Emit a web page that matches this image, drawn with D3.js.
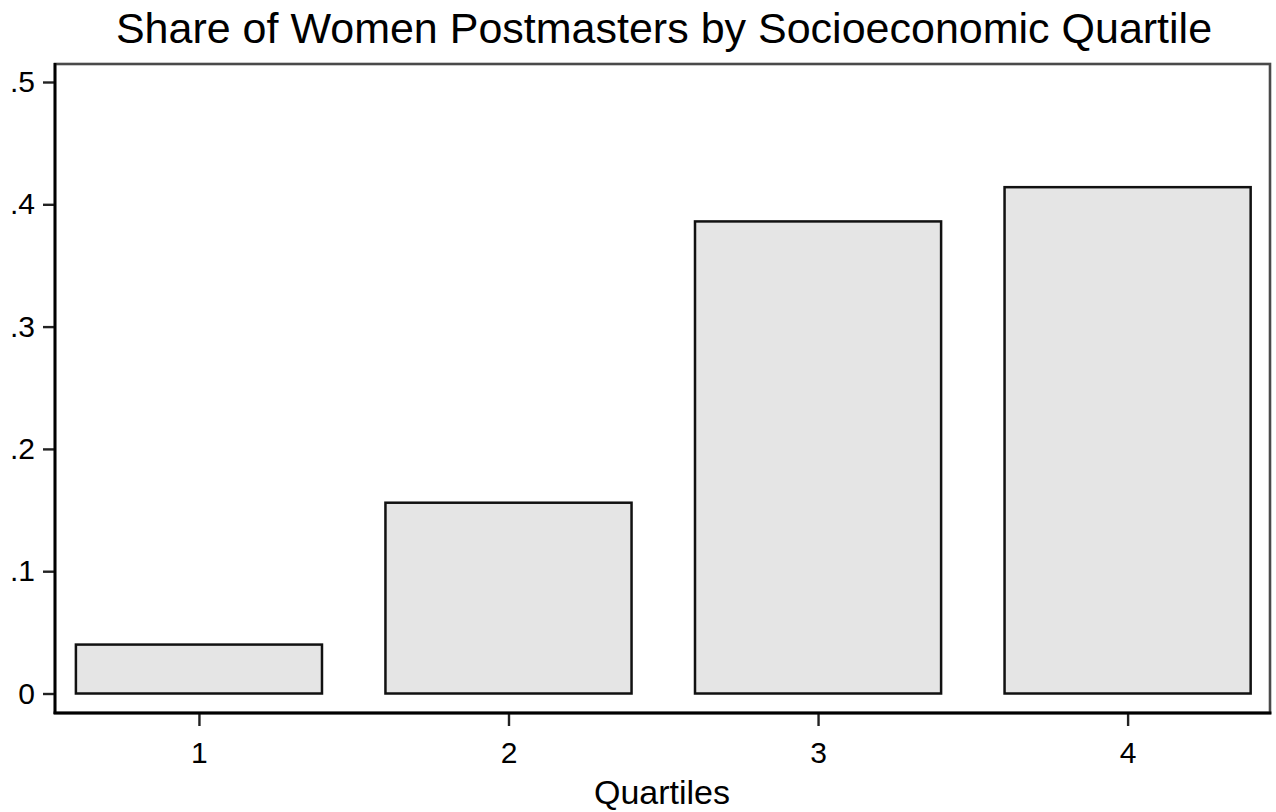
<!DOCTYPE html>
<html>
<head>
<meta charset="utf-8">
<script src="https://cdn.jsdelivr.net/npm/d3@7"></script>
<style>
  html, body { margin: 0; padding: 0; background: #ffffff; }
  svg { display: block; font-family: "Liberation Sans", Arial, sans-serif; }
</style>
</head>
<body>
<svg id="chart" width="1276" height="812"></svg>
<script>
const categories = [1, 2, 3, 4];
const shares = [0.040, 0.156, 0.386, 0.414];
const yTicks = [0, 0.1, 0.2, 0.3, 0.4, 0.5];
const yTickLabels = ["0", ".1", ".2", ".3", ".4", ".5"];
const xTickLabels = ["1", "2", "3", "4"];
const titleText = "Share of Women Postmasters by Socioeconomic Quartile";
const xTitle = "Quartiles";

const svg = d3.select("#chart");
const plot = { left: 55, right: 1270, top: 64, bottom: 713 };

const x = d3.scaleLinear().domain([0.535, 4.46]).range([plot.left, plot.right]);
const y = d3.scaleLinear().domain([0, 0.5]).range([693.5, 82]);
const barW = 0.795;

// plot region border (top/right grey)
svg.append("rect")
  .attr("x", plot.left).attr("y", plot.top)
  .attr("width", plot.right - plot.left).attr("height", plot.bottom - plot.top)
  .attr("fill", "none").attr("stroke", "#4a4a4a").attr("stroke-width", 2.6);

// bars
svg.append("g").selectAll("rect").data(categories).join("rect")
  .attr("x", (d) => x(d - barW / 2))
  .attr("width", (d) => x(d + barW / 2) - x(d - barW / 2))
  .attr("y", (d, i) => y(shares[i]))
  .attr("height", (d, i) => y(0) - y(shares[i]))
  .attr("fill", "#e5e5e5")
  .attr("stroke", "#111")
  .attr("stroke-width", 2.5);

// y axis
const yAxis = d3.axisLeft(y).tickValues(yTicks)
  .tickFormat((d, i) => yTickLabels[i]).tickSize(12).tickPadding(8);
const gy = svg.append("g").attr("transform", `translate(${plot.left},0)`).call(yAxis);
gy.select(".domain").remove();
gy.append("line").attr("x1", 0).attr("x2", 0).attr("y1", plot.top - 1).attr("y2", plot.bottom + 1)
  .attr("stroke", "#000").attr("stroke-width", 2.8);
gy.selectAll(".tick line").attr("stroke", "#222").attr("stroke-width", 2.4);
gy.selectAll(".tick text").attr("font-size", 30).attr("fill", "#000")
  .attr("font-family", "Liberation Sans, Arial, sans-serif");

// x axis
const xAxis = d3.axisBottom(x).tickValues(categories)
  .tickFormat((d, i) => xTickLabels[i]).tickSize(13).tickPadding(15.5);
const gx = svg.append("g").attr("transform", `translate(0,${plot.bottom})`).call(xAxis);
gx.select(".domain").remove();
gx.append("line").attr("x1", plot.left - 1.4).attr("x2", plot.right + 1.4).attr("y1", 0).attr("y2", 0)
  .attr("stroke", "#000").attr("stroke-width", 2.8);
gx.selectAll(".tick line").attr("stroke", "#222").attr("stroke-width", 2.4);
gx.selectAll(".tick text").attr("font-size", 30).attr("fill", "#000")
  .attr("font-family", "Liberation Sans, Arial, sans-serif");

// titles
svg.append("text").attr("x", 664).attr("y", 43)
  .attr("text-anchor", "middle").attr("font-size", 43).attr("fill", "#000")
  .text(titleText);
svg.append("text").attr("x", 662).attr("y", 804)
  .attr("text-anchor", "middle").attr("font-size", 34).attr("fill", "#000")
  .text(xTitle);
</script>
</body>
</html>
